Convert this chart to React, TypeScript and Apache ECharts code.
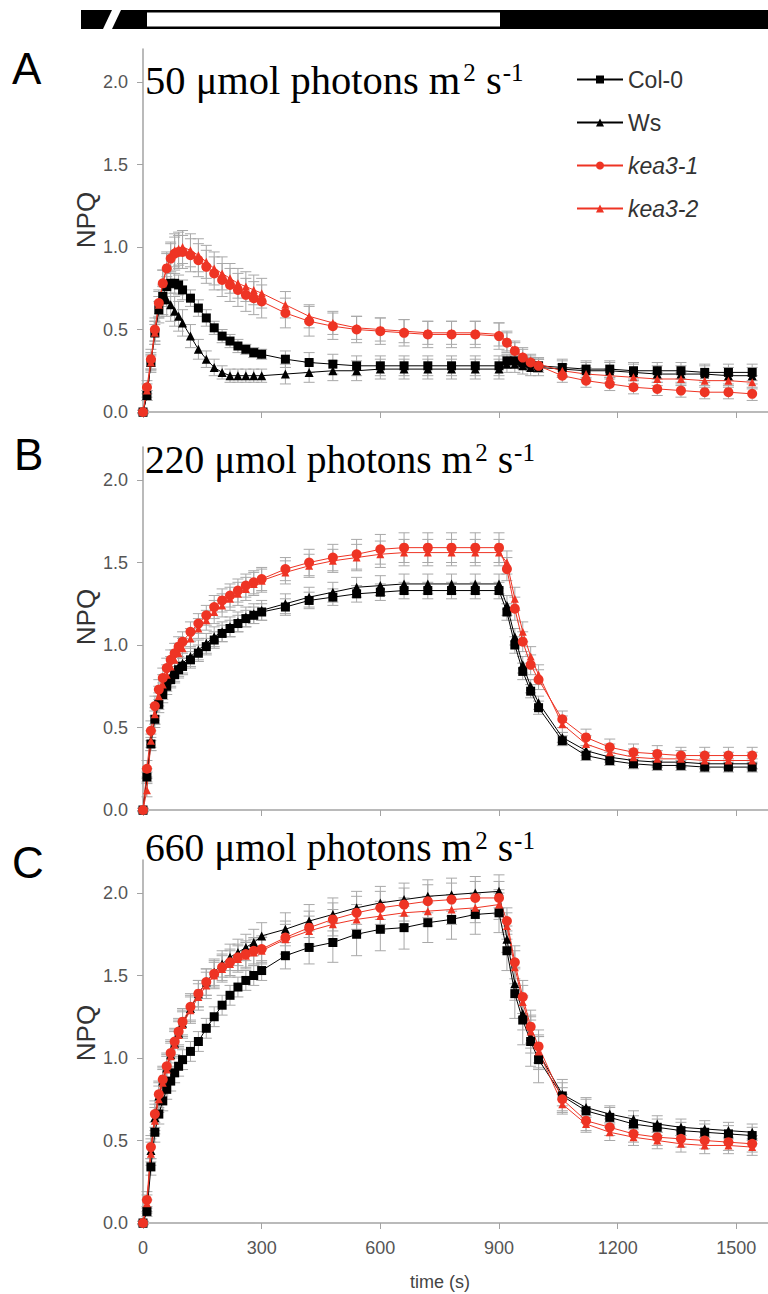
import React, { useEffect, useRef } from 'react';
import * as echarts from 'echarts';

// ---- data ----
const times = [0, 10, 20, 30, 40, 50, 60, 70, 80, 90, 100, 120, 140, 160, 180, 200, 220, 240, 260, 280, 300,
  360, 420, 480, 540, 600, 660, 720, 780, 840, 900,
  920, 940, 960, 980, 1000,
  1060, 1120, 1180, 1240, 1300, 1360, 1420, 1480, 1540];

const seriesNames = ['Col-0', 'Ws', 'kea3-1', 'kea3-2'];
const xTicks = [0, 300, 600, 900, 1200, 1500];
const yTicks = [0, 0.5, 1, 1.5, 2];
const panelLetters = ['A', 'B', 'C'];
const panelIntensities = ['50', '220', '660'];

// Panel A (50)
const col0A = [0, 0.1, 0.3, 0.48, 0.62, 0.7, 0.76, 0.78, 0.78, 0.77, 0.74, 0.69, 0.63, 0.57, 0.51, 0.46, 0.43, 0.4, 0.38, 0.36, 0.35,
  0.32, 0.3, 0.29, 0.28, 0.28, 0.28, 0.28, 0.28, 0.28, 0.28,
  0.31, 0.31, 0.3, 0.29, 0.28,
  0.27, 0.26, 0.26, 0.25, 0.25, 0.25, 0.24, 0.24, 0.24];
const wsA = [0, 0.1, 0.3, 0.48, 0.62, 0.68, 0.68, 0.65, 0.61, 0.58, 0.54, 0.46, 0.38, 0.32, 0.27, 0.24, 0.22, 0.22, 0.22, 0.22, 0.22,
  0.23, 0.24, 0.25, 0.25, 0.26, 0.26, 0.26, 0.26, 0.26, 0.26,
  0.29, 0.29, 0.28, 0.27, 0.27,
  0.26, 0.25, 0.25, 0.24, 0.23, 0.23, 0.23, 0.22, 0.22];
const kea1A = [0, 0.15, 0.32, 0.5, 0.66, 0.78, 0.87, 0.93, 0.96, 0.97, 0.97, 0.95, 0.92, 0.88, 0.84, 0.8, 0.77, 0.74, 0.71, 0.69, 0.67,
  0.6, 0.55, 0.52, 0.5, 0.49, 0.48, 0.47, 0.47, 0.47, 0.46,
  0.42, 0.37, 0.33, 0.3, 0.28,
  0.22, 0.19, 0.17, 0.15, 0.14, 0.13, 0.12, 0.12, 0.11];
const kea2A = [0, 0.13, 0.3, 0.48, 0.65, 0.78, 0.88, 0.94, 0.98, 0.99, 1.0, 0.98, 0.95, 0.91, 0.87, 0.84, 0.81, 0.78, 0.76, 0.74, 0.72,
  0.65, 0.58, 0.54, 0.51, 0.5, 0.49, 0.48, 0.48, 0.48, 0.47,
  0.43, 0.38, 0.34, 0.31, 0.29,
  0.25, 0.23, 0.22, 0.21, 0.2, 0.2, 0.19, 0.19, 0.18];
const col0ErrA = [0.01, 0.03, 0.04, 0.05, 0.05, 0.06, 0.06, 0.06, 0.06, 0.06, 0.06, 0.05, 0.05, 0.05, 0.04, 0.04, 0.04, 0.04, 0.03, 0.03, 0.03,
  0.05, 0.06, 0.06, 0.06, 0.06, 0.06, 0.06, 0.06, 0.06, 0.06,
  0.04, 0.04, 0.04, 0.04, 0.04,
  0.05, 0.05, 0.05, 0.05, 0.05, 0.05, 0.05, 0.05, 0.05];
const wsErrA = [0.01, 0.03, 0.05, 0.07, 0.08, 0.09, 0.1, 0.1, 0.09, 0.09, 0.08, 0.07, 0.06, 0.05, 0.05, 0.04, 0.04, 0.04, 0.04, 0.04, 0.04,
  0.06, 0.06, 0.06, 0.06, 0.06, 0.06, 0.06, 0.06, 0.06, 0.06,
  0.05, 0.05, 0.05, 0.05, 0.05,
  0.05, 0.05, 0.05, 0.05, 0.05, 0.05, 0.05, 0.05, 0.05];
const kea1ErrA = [0.01, 0.04, 0.06, 0.07, 0.08, 0.08, 0.09, 0.09, 0.1, 0.1, 0.1, 0.1, 0.1, 0.1, 0.1, 0.1, 0.1, 0.1, 0.1, 0.1, 0.1,
  0.09, 0.09, 0.08, 0.08, 0.08, 0.08, 0.08, 0.08, 0.08, 0.08,
  0.06, 0.05, 0.05, 0.04, 0.04,
  0.04, 0.04, 0.04, 0.04, 0.04, 0.04, 0.04, 0.04, 0.04];
const kea2ErrA = [0.01, 0.04, 0.06, 0.07, 0.08, 0.08, 0.09, 0.09, 0.1, 0.1, 0.1, 0.1, 0.1, 0.1, 0.1, 0.1, 0.09, 0.09, 0.09, 0.09, 0.09,
  0.08, 0.07, 0.07, 0.07, 0.07, 0.07, 0.07, 0.07, 0.07, 0.07,
  0.06, 0.05, 0.05, 0.04, 0.04,
  0.04, 0.04, 0.04, 0.04, 0.04, 0.04, 0.04, 0.04, 0.04];

// Panel B (220)
const col0B = [0, 0.2, 0.4, 0.55, 0.64, 0.7, 0.75, 0.79, 0.82, 0.85, 0.87, 0.91, 0.95, 0.99, 1.03, 1.07, 1.1, 1.13, 1.16, 1.18, 1.2,
  1.23, 1.27, 1.29, 1.31, 1.32, 1.33, 1.33, 1.33, 1.33, 1.33,
  1.2, 1.0, 0.84, 0.72, 0.62,
  0.42, 0.33, 0.3, 0.28, 0.27, 0.27, 0.26, 0.26, 0.26];
const wsB = [0, 0.22, 0.42, 0.57, 0.66, 0.72, 0.77, 0.81, 0.84, 0.87, 0.89, 0.93, 0.97, 1.01, 1.05, 1.08, 1.11, 1.14, 1.17, 1.19, 1.21,
  1.25, 1.29, 1.32, 1.35, 1.36, 1.37, 1.37, 1.37, 1.37, 1.37,
  1.24, 1.05, 0.88, 0.75, 0.65,
  0.44, 0.36, 0.32, 0.3, 0.29, 0.29, 0.28, 0.28, 0.28];
const kea1B = [0, 0.25, 0.48, 0.63, 0.73, 0.8, 0.86, 0.91, 0.95, 0.99, 1.02, 1.08, 1.13, 1.18, 1.23, 1.27, 1.3, 1.33, 1.36, 1.38, 1.4,
  1.46, 1.5, 1.53, 1.55, 1.58, 1.59, 1.59, 1.59, 1.59, 1.59,
  1.46, 1.22, 1.02, 0.88, 0.79,
  0.55, 0.44, 0.38, 0.35, 0.34, 0.33, 0.33, 0.33, 0.33];
const kea2B = [0, 0.12, 0.42, 0.58, 0.69, 0.76, 0.82, 0.87, 0.91, 0.95, 0.98, 1.04, 1.1, 1.15, 1.2, 1.24, 1.28, 1.31, 1.34, 1.37, 1.39,
  1.44, 1.48, 1.51, 1.53, 1.55, 1.56, 1.56, 1.56, 1.56, 1.56,
  1.5, 1.28, 1.08, 0.93, 0.82,
  0.52, 0.4, 0.35, 0.32, 0.31, 0.31, 0.3, 0.3, 0.3];
const col0ErrB = [0.01, 0.03, 0.04, 0.05, 0.05, 0.05, 0.05, 0.05, 0.05, 0.05, 0.05, 0.05, 0.05, 0.05, 0.05, 0.05, 0.05, 0.05, 0.05, 0.05, 0.05,
  0.05, 0.05, 0.05, 0.05, 0.05, 0.05, 0.05, 0.05, 0.05, 0.05,
  0.05, 0.05, 0.05, 0.04, 0.04,
  0.03, 0.03, 0.03, 0.03, 0.03, 0.03, 0.03, 0.03, 0.03];
const wsErrB = [0.01, 0.03, 0.04, 0.05, 0.05, 0.05, 0.05, 0.06, 0.06, 0.06, 0.06, 0.06, 0.06, 0.06, 0.06, 0.06, 0.06, 0.06, 0.06, 0.06, 0.06,
  0.06, 0.06, 0.06, 0.06, 0.06, 0.06, 0.06, 0.06, 0.06, 0.06,
  0.06, 0.05, 0.05, 0.04, 0.04,
  0.03, 0.03, 0.03, 0.03, 0.03, 0.03, 0.03, 0.03, 0.03];
const kea1ErrB = [0.01, 0.05, 0.06, 0.06, 0.06, 0.06, 0.06, 0.06, 0.06, 0.06, 0.06, 0.06, 0.06, 0.06, 0.07, 0.07, 0.07, 0.07, 0.07, 0.07, 0.07,
  0.07, 0.08, 0.08, 0.09, 0.09, 0.09, 0.09, 0.09, 0.09, 0.09,
  0.07, 0.07, 0.06, 0.06, 0.06,
  0.05, 0.05, 0.05, 0.05, 0.05, 0.05, 0.05, 0.05, 0.05];
const kea2ErrB = [0.01, 0.04, 0.06, 0.06, 0.06, 0.06, 0.06, 0.06, 0.06, 0.06, 0.06, 0.06, 0.06, 0.06, 0.07, 0.07, 0.07, 0.07, 0.07, 0.07, 0.07,
  0.07, 0.07, 0.07, 0.08, 0.08, 0.08, 0.08, 0.08, 0.08, 0.08,
  0.07, 0.07, 0.06, 0.06, 0.06,
  0.05, 0.05, 0.05, 0.05, 0.05, 0.05, 0.05, 0.05, 0.05];

// Panel C (660)
const col0C = [0, 0.07, 0.34, 0.55, 0.66, 0.74, 0.81, 0.86, 0.91, 0.95, 0.99, 1.04, 1.1, 1.18, 1.25, 1.32, 1.38, 1.43, 1.47, 1.5, 1.53,
  1.62, 1.67, 1.7, 1.75, 1.78, 1.79, 1.82, 1.84, 1.87, 1.88,
  1.65, 1.39, 1.23, 1.1, 0.99,
  0.77, 0.68, 0.64, 0.6, 0.58, 0.56, 0.55, 0.54, 0.53];
const wsC = [0, 0.1, 0.44, 0.64, 0.77, 0.86, 0.94, 1.02, 1.09, 1.15, 1.21, 1.3, 1.39, 1.46, 1.52, 1.57, 1.61, 1.64, 1.67, 1.7, 1.74,
  1.78, 1.83, 1.87, 1.91, 1.94, 1.96, 1.98, 1.99, 2.0, 2.01,
  1.72, 1.45, 1.27, 1.13, 1.03,
  0.78, 0.7, 0.66, 0.63, 0.6, 0.58, 0.57, 0.56, 0.55];
const kea1C = [0, 0.14, 0.46, 0.66, 0.78, 0.87, 0.95, 1.03, 1.1, 1.16, 1.22, 1.31, 1.39, 1.46, 1.51, 1.55, 1.58, 1.61, 1.63, 1.65, 1.66,
  1.73, 1.79, 1.84, 1.88, 1.91, 1.93, 1.95, 1.96, 1.97, 1.97,
  1.83, 1.58, 1.37, 1.19, 1.07,
  0.75, 0.62, 0.58, 0.54, 0.52, 0.51, 0.5, 0.49, 0.48];
const kea2C = [0, 0.12, 0.42, 0.62, 0.75, 0.85, 0.93, 1.01, 1.08, 1.14, 1.2, 1.29, 1.37, 1.44, 1.5, 1.54, 1.57, 1.6, 1.62, 1.64, 1.65,
  1.72, 1.77, 1.81, 1.84, 1.86, 1.88, 1.89, 1.9, 1.91, 1.93,
  1.8, 1.55, 1.34, 1.16, 1.04,
  0.72, 0.6, 0.55, 0.52, 0.5, 0.48, 0.47, 0.47, 0.46];
const col0ErrC = [0.01, 0.03, 0.05, 0.06, 0.06, 0.06, 0.06, 0.06, 0.06, 0.06, 0.06, 0.06, 0.06, 0.06, 0.06, 0.06, 0.06, 0.06, 0.06, 0.06, 0.06,
  0.08, 0.1, 0.12, 0.13, 0.13, 0.13, 0.12, 0.12, 0.12, 0.12,
  0.12, 0.15, 0.15, 0.15, 0.14,
  0.1, 0.07, 0.06, 0.05, 0.05, 0.05, 0.05, 0.05, 0.05];
const wsErrC = [0.01, 0.04, 0.07, 0.08, 0.08, 0.08, 0.08, 0.08, 0.08, 0.08, 0.08, 0.08, 0.08, 0.08, 0.08, 0.08, 0.08, 0.08, 0.08, 0.08, 0.08,
  0.1, 0.1, 0.1, 0.1, 0.1, 0.1, 0.1, 0.1, 0.1, 0.1,
  0.08, 0.1, 0.1, 0.1, 0.1,
  0.07, 0.06, 0.05, 0.05, 0.05, 0.05, 0.05, 0.05, 0.05];
const kea1ErrC = [0.01, 0.05, 0.07, 0.08, 0.08, 0.08, 0.08, 0.08, 0.08, 0.08, 0.08, 0.08, 0.08, 0.08, 0.08, 0.08, 0.08, 0.08, 0.08, 0.08, 0.08,
  0.1, 0.1, 0.1, 0.1, 0.1, 0.1, 0.1, 0.1, 0.1, 0.1,
  0.08, 0.1, 0.1, 0.1, 0.1,
  0.07, 0.06, 0.05, 0.05, 0.05, 0.05, 0.05, 0.05, 0.05];
const kea2ErrC = [0.01, 0.05, 0.07, 0.08, 0.08, 0.08, 0.08, 0.08, 0.08, 0.08, 0.08, 0.08, 0.08, 0.08, 0.08, 0.08, 0.08, 0.08, 0.08, 0.08, 0.08,
  0.09, 0.09, 0.09, 0.09, 0.09, 0.09, 0.09, 0.09, 0.09, 0.09,
  0.08, 0.1, 0.1, 0.1, 0.1,
  0.06, 0.05, 0.05, 0.05, 0.05, 0.05, 0.05, 0.05, 0.05];

// ---- styling ----
const RED = '#ee3424';
const BLACK = '#000000';
const AXIS = '#a3a3a3';
const SANS = '"Liberation Sans", Arial, sans-serif';
const SERIF = '"Liberation Serif", "Times New Roman", serif';
const seriesColors = [BLACK, BLACK, RED, RED];
const seriesSymbols = ['rect', 'triangle', 'circle', 'triangle'];
const seriesSymbolSizes = [9, 9, 10, 8];

const panelValues = [
  [col0A, wsA, kea1A, kea2A],
  [col0B, wsB, kea1B, kea2B],
  [col0C, wsC, kea1C, kea2C],
];
const panelErrors = [
  [col0ErrA, wsErrA, kea1ErrA, kea2ErrA],
  [col0ErrB, wsErrB, kea1ErrB, kea2ErrB],
  [col0ErrC, wsErrC, kea1ErrC, kea2ErrC],
];

const GRID_TOPS = [49, 447, 860];
const GRID_H = 363;
const LETTER_POS = [[12, 68], [14, 454], [12, 862]];
const TITLE_Y = [80, 460, 848];
const TITLE_SIZE = [40.5, 39.5, 39.5];
const NPQ_Y = [220, 617, 1033];

function errorRender(params: any, api: any) {
  const x = api.value(0);
  const lo = api.value(1);
  const hi = api.value(2);
  const pHi = api.coord([x, hi]);
  const pLo = api.coord([x, lo]);
  const w = 5.5;
  const st = { stroke: '#a8a8a8', lineWidth: 1 };
  return {
    type: 'group',
    children: [
      { type: 'line', shape: { x1: pHi[0], y1: pHi[1], x2: pLo[0], y2: pLo[1] }, style: st },
      { type: 'line', shape: { x1: pHi[0] - w, y1: pHi[1], x2: pHi[0] + w, y2: pHi[1] }, style: st },
      { type: 'line', shape: { x1: pLo[0] - w, y1: pLo[1], x2: pLo[0] + w, y2: pLo[1] }, style: st },
    ],
  };
}

function buildOption() {
  const grid = GRID_TOPS.map((top) => ({ left: 143, right: 0, top, height: GRID_H, outerBoundsMode: 'none' }));
  const xAxis = GRID_TOPS.map((_, i) => ({
    type: 'value',
    gridIndex: i,
    min: 0,
    max: 1580,
    axisLine: { show: true, onZero: false, lineStyle: { color: AXIS, width: 1.5 } },
    axisTick: { show: true, length: 6, customValues: xTicks, lineStyle: { color: AXIS, width: 1 } },
    axisLabel: {
      show: i === 2, customValues: xTicks, margin: 16, fontSize: 18, color: '#555', fontFamily: SANS,
      formatter: (v: number) => String(v),
    },
    splitLine: { show: false },
  }));
  const yAxis = GRID_TOPS.map((_, i) => ({
    type: 'value',
    gridIndex: i,
    min: 0,
    max: 2.2,
    axisLine: { show: true, lineStyle: { color: AXIS, width: 1.5 } },
    axisTick: { show: true, length: 6, customValues: yTicks, lineStyle: { color: AXIS, width: 1 } },
    axisLabel: {
      show: true, customValues: yTicks, margin: 15, fontSize: 18, color: '#555', fontFamily: SANS,
      formatter: (v: number) => v.toFixed(1),
    },
    splitLine: { show: false },
  }));

  const series: any[] = [];
  panelValues.forEach((vals, p) => {
    vals.forEach((arr, s) => {
      const errs = panelErrors[p][s];
      series.push({
        type: 'custom',
        name: `err-${p}-${s}`,
        xAxisIndex: p,
        yAxisIndex: p,
        silent: true,
        z: 1,
        renderItem: errorRender,
        encode: { x: 0, y: [1, 2] },
        data: times.map((t, k) => [t, arr[k] - errs[k], arr[k] + errs[k]]),
      });
    });
  });
  panelValues.forEach((vals, p) => {
    vals.forEach((arr, s) => {
      series.push({
        type: 'line',
        name: seriesNames[s],
        xAxisIndex: p,
        yAxisIndex: p,
        z: 3,
        data: times.map((t, k) => [t, arr[k]]),
        symbol: seriesSymbols[s],
        symbolSize: seriesSymbolSizes[s],
        showAllSymbol: true,
        lineStyle: { color: seriesColors[s], width: 1 },
        itemStyle: { color: seriesColors[s] },
      });
    });
  });

  const graphic: any[] = [
    // light regime bar
    { type: 'rect', shape: { x: 81, y: 10, width: 687, height: 19 }, style: { fill: '#000' } },
    { type: 'polygon', shape: { points: [[112, 10], [121, 10], [112, 29], [103, 29]] }, style: { fill: '#fff' } },
    { type: 'rect', shape: { x: 147, y: 12.5, width: 353, height: 14 }, style: { fill: '#fff' } },
  ];
  panelLetters.forEach((L, i) => {
    graphic.push({
      type: 'text', x: LETTER_POS[i][0], y: LETTER_POS[i][1],
      style: { text: L, fontSize: 44, fontFamily: SANS, fill: '#000', align: 'left', verticalAlign: 'middle' },
    });
    graphic.push({
      type: 'text', x: 145, y: TITLE_Y[i],
      style: {
        text: `{n|${panelIntensities[i]} \u03bcmol photons m}{sup|2}{n| s}{sup2|-1}`,
        align: 'left', verticalAlign: 'middle',
        rich: {
          n: { fontSize: TITLE_SIZE[i], fontFamily: SERIF, fill: '#000' },
          sup: { fontSize: 25, fontFamily: SERIF, fill: '#000', verticalAlign: 'top', padding: [0, 0, 0, 3] },
          sup2: { fontSize: 25, fontFamily: SERIF, fill: '#000', verticalAlign: 'top', padding: [0, 0, 0, 1] },
        },
      },
    });
    graphic.push({
      type: 'text', x: 86, y: NPQ_Y[i], rotation: Math.PI / 2,
      style: { text: 'NPQ', fontSize: 26, fontFamily: SANS, fill: '#333', align: 'center', verticalAlign: 'middle' },
    });
  });
  graphic.push({
    type: 'text', x: 440, y: 1282,
    style: { text: 'time (s)', fontSize: 18, fontFamily: SANS, fill: '#444', align: 'center', verticalAlign: 'middle' },
  });

  return {
    animation: false,
    backgroundColor: '#ffffff',
    textStyle: { fontFamily: SANS },
    grid,
    xAxis,
    yAxis,
    legend: {
      orient: 'vertical',
      left: 576,
      top: 68,
      padding: 0,
      itemGap: 20,
      itemWidth: 46,
      itemHeight: 10,
      textStyle: { fontSize: 23, color: '#333', fontFamily: SANS },
      data: [
        { name: 'Col-0' },
        { name: 'Ws' },
        { name: 'kea3-1', textStyle: { fontStyle: 'italic' } },
        { name: 'kea3-2', textStyle: { fontStyle: 'italic' } },
      ],
    },
    graphic,
    series,
  };
}

export default function App() {
  const ref = useRef<HTMLDivElement>(null);
  useEffect(() => {
    if (!ref.current) return;
    const chart = echarts.init(ref.current, null, { renderer: 'svg' });
    chart.setOption(buildOption() as any);
    return () => chart.dispose();
  }, []);
  return (
    <div
      ref={ref}
      style={{ position: 'absolute', left: 0, top: 0, width: 768, height: 1294, background: '#fff' }}
    />
  );
}
